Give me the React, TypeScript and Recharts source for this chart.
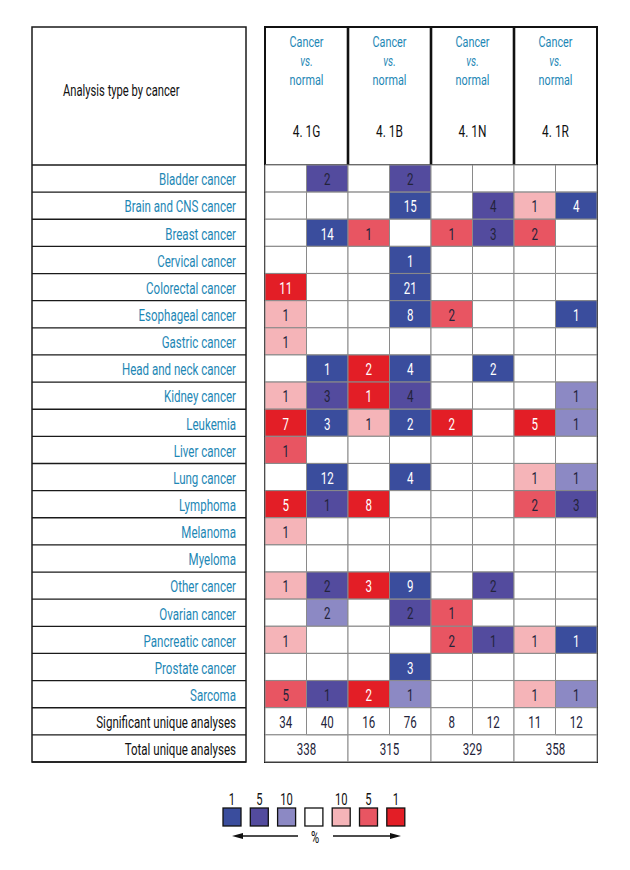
import React from 'react';
import { BarChart, Bar, XAxis, YAxis, Cell, LabelList } from 'recharts';

const cancers = [
  'Bladder cancer', 'Brain and CNS cancer', 'Breast cancer', 'Cervical cancer',
  'Colorectal cancer', 'Esophageal cancer', 'Gastric cancer', 'Head and neck cancer',
  'Kidney cancer', 'Leukemia', 'Liver cancer', 'Lung cancer', 'Lymphoma', 'Melanoma',
  'Myeloma', 'Other cancer', 'Ovarian cancer', 'Pancreatic cancer', 'Prostate cancer', 'Sarcoma',
];

const datasets = ['4. 1G', '4. 1B', '4. 1N', '4. 1R'];

// counts of significant analyses (0 = none) and their gene rank threshold (1, 5, 10 %)
const up1G = [0, 0, 0, 0, 11, 1, 1, 0, 1, 7, 1, 0, 5, 1, 0, 1, 0, 1, 0, 5];
const up1GRank = [0, 0, 0, 0, 1, 10, 10, 0, 10, 1, 5, 0, 1, 10, 0, 10, 0, 10, 0, 5];
const down1G = [2, 0, 14, 0, 0, 0, 0, 1, 3, 3, 0, 12, 1, 0, 0, 2, 2, 0, 0, 1];
const down1GRank = [5, 0, 1, 0, 0, 0, 0, 1, 5, 1, 0, 1, 5, 0, 0, 5, 10, 0, 0, 5];
const up1B = [0, 0, 1, 0, 0, 0, 0, 2, 1, 1, 0, 0, 8, 0, 0, 3, 0, 0, 0, 2];
const up1BRank = [0, 0, 5, 0, 0, 0, 0, 1, 1, 10, 0, 0, 1, 0, 0, 1, 0, 0, 0, 1];
const down1B = [2, 15, 0, 1, 21, 8, 0, 4, 4, 2, 0, 4, 0, 0, 0, 9, 2, 0, 3, 1];
const down1BRank = [5, 1, 0, 1, 1, 1, 0, 1, 5, 1, 0, 1, 0, 0, 0, 1, 5, 0, 1, 10];
const up1N = [0, 0, 1, 0, 0, 2, 0, 0, 0, 2, 0, 0, 0, 0, 0, 0, 1, 2, 0, 0];
const up1NRank = [0, 0, 5, 0, 0, 5, 0, 0, 0, 1, 0, 0, 0, 0, 0, 0, 5, 5, 0, 0];
const down1N = [0, 4, 3, 0, 0, 0, 0, 2, 0, 0, 0, 0, 0, 0, 0, 2, 0, 1, 0, 0];
const down1NRank = [0, 5, 5, 0, 0, 0, 0, 1, 0, 0, 0, 0, 0, 0, 0, 5, 0, 5, 0, 0];
const up1R = [0, 1, 2, 0, 0, 0, 0, 0, 0, 5, 0, 1, 2, 0, 0, 0, 0, 1, 0, 1];
const up1RRank = [0, 10, 5, 0, 0, 0, 0, 0, 0, 1, 0, 10, 5, 0, 0, 0, 0, 10, 0, 10];
const down1R = [0, 4, 0, 0, 0, 1, 0, 0, 1, 1, 0, 1, 3, 0, 0, 0, 0, 1, 0, 1];
const down1RRank = [0, 1, 0, 0, 0, 1, 0, 0, 10, 10, 0, 10, 5, 0, 0, 0, 0, 1, 0, 10];

const significant = [34, 40, 16, 76, 8, 12, 11, 12];
const totals = [338, 315, 329, 358];

const legendTicks = ['1', '5', '10', '', '10', '5', '1'];

const RED: Record<number, string> = { 1: '#e31e26', 5: '#e85562', 10: '#f5b4b8' };
const BLUE: Record<number, string> = { 1: '#3a4d9d', 5: '#534b9e', 10: '#8c89c4' };
const TEAL = '#1e87b5';
const FONT = "Roboto, 'Open Sans', sans-serif";
const SX = 0.7; // horizontal squeeze to mimic a condensed face

const columns = [
  { counts: up1G, ranks: up1GRank, pal: RED },
  { counts: down1G, ranks: down1GRank, pal: BLUE },
  { counts: up1B, ranks: up1BRank, pal: RED },
  { counts: down1B, ranks: down1BRank, pal: BLUE },
  { counts: up1N, ranks: up1NRank, pal: RED },
  { counts: down1N, ranks: down1NRank, pal: BLUE },
  { counts: up1R, ranks: up1RRank, pal: RED },
  { counts: down1R, ranks: down1RRank, pal: BLUE },
];

const rows: any[] = cancers.map((name, i) => {
  const r: any = { name };
  columns.forEach((c, j) => {
    const n = c.counts[i];
    const rank = c.ranks[i];
    r[`c${j}`] = 1;
    r[`t${j}`] = n ? String(n) : '';
    r[`f${j}`] = n ? c.pal[rank] : '#ffffff';
    r[`w${j}`] = n > 0 && rank === 1;
  });
  return r;
});

const sigRow: any = { name: 'Significant unique analyses', summary: true };
significant.forEach((v, j) => {
  sigRow[`c${j}`] = 1;
  sigRow[`t${j}`] = String(v);
  sigRow[`f${j}`] = '#ffffff';
  sigRow[`w${j}`] = false;
});
rows.push(sigRow);

const totRow: any = { name: 'Total unique analyses', summary: true };
for (let j = 0; j < 8; j++) {
  const even = j % 2 === 0;
  totRow[`c${j}`] = even ? 2 : 0;
  totRow[`t${j}`] = even ? String(totals[j / 2]) : '';
  totRow[`f${j}`] = '#ffffff';
  totRow[`w${j}`] = false;
}
rows.push(totRow);

// frame layout
const W = 630;
const H = 870;
const TOP = 27;
const HEAD = 165;
const BOTTOM = 762;
const LX0 = 32;
const LX1 = 246;
const RX0 = 265;
const RX1 = 597;
const colW = (RX1 - RX0) / 8;
const rowH = (BOTTOM - HEAD) / rows.length;

// condensed-looking text
const T = ({ x, y, size = 15, fill = '#111', anchor = 'middle', italic = false, children }: any) => (
  <text
    transform={`translate(${x},${y}) scale(${SX},1)`}
    textAnchor={anchor}
    dominantBaseline="central"
    fontFamily={FONT}
    fontSize={size}
    fontStyle={italic ? 'italic' : 'normal'}
    fill={fill}
  >
    {children}
  </text>
);

const makeLabel = (j: number) => (p: any) => {
  const { x, y, width, height, value, index } = p;
  if (!value || !width) return null;
  const row = rows[index] || {};
  return (
    <T x={x + width / 2} y={y + height / 2 + 1} size={16.5} fill={row[`w${j}`] ? '#ffffff' : '#23233a'}>
      {value}
    </T>
  );
};

const RowTick = (p: any) => {
  const row = rows.find((r) => r.name === p.payload.value);
  return (
    <T x={236} y={p.y + 1} size={16.5} anchor="end" fill={row && row.summary ? '#111' : TEAL}>
      {p.payload.value}
    </T>
  );
};

const Frame = () => {
  const lines = [];
  for (let k = 0; k <= rows.length; k++) {
    const y = HEAD + k * rowH;
    lines.push(<line key={`l${k}`} x1={LX0} x2={LX1} y1={y} y2={y} stroke="#1a1a1a" strokeWidth={1.3} />);
  }
  const legX = 223;
  const legStep = 27.3;
  const legY = 808;
  const legFills = [BLUE[1], BLUE[5], BLUE[10], '#ffffff', RED[10], RED[5], RED[1]];
  return (
    <g>
      {lines}
      <rect x={LX0} y={TOP} width={LX1 - LX0} height={BOTTOM - TOP} fill="none" stroke="#1a1a1a" strokeWidth={1.5} />
      <T x={63} y={90} size={16} anchor="start">Analysis type by cancer</T>
      {[20, 21].map((k) => (
        <line key={`s${k}`} x1={RX0} x2={RX1} y1={HEAD + k * rowH} y2={HEAD + k * rowH} stroke="#111" strokeWidth={1.5} />
      ))}
      <line x1={RX0} x2={RX1} y1={HEAD} y2={HEAD} stroke="#111" strokeWidth={1.6} />
      {[1, 2, 3].map((g) => (
        <line key={`g${g}`} x1={RX0 + g * 2 * colW} x2={RX0 + g * 2 * colW} y1={TOP} y2={BOTTOM} stroke="#111" strokeWidth={2.6} />
      ))}
      <rect x={RX0} y={TOP} width={RX1 - RX0} height={BOTTOM - TOP} fill="none" stroke="#111" strokeWidth={2} />
      {datasets.map((d, g) => {
        const cx = RX0 + (2 * g + 1) * colW;
        return (
          <g key={d}>
            <T x={cx} y={42} size={15.5} fill={TEAL}>Cancer</T>
            <T x={cx} y={61} size={14.5} italic fill={TEAL}>vs.</T>
            <T x={cx} y={79.5} size={15.5} fill={TEAL}>normal</T>
            <T x={cx} y={131} size={17}>{d}</T>
          </g>
        );
      })}
      {legFills.map((f, i) => (
        <g key={`lg${i}`}>
          <rect x={legX + i * legStep} y={legY} width={18} height={18} fill={f} stroke="#111" strokeWidth={1.3} />
          <T x={legX + i * legStep + 9} y={legY - 9} size={16}>{legendTicks[i]}</T>
        </g>
      ))}
      <line x1={240} x2={298} y1={legY + 28} y2={legY + 28} stroke="#111" strokeWidth={1.3} />
      <polygon points={`232,${legY + 28} 243,${legY + 25} 243,${legY + 31}`} fill="#111" />
      <line x1={333} x2={392} y1={legY + 28} y2={legY + 28} stroke="#111" strokeWidth={1.3} />
      <polygon points={`401,${legY + 28} 390,${legY + 25} 390,${legY + 31}`} fill="#111" />
      <T x={315} y={legY + 29} size={16}>%</T>
    </g>
  );
};

export default function App() {
  return (
    <div style={{ position: 'absolute', left: 0, top: 0, width: W, height: H, background: '#fff' }}>
      <BarChart
        width={W}
        height={H}
        data={rows}
        layout="vertical"
        barCategoryGap={0}
        margin={{ top: HEAD, right: W - RX1, bottom: H - BOTTOM, left: LX0 }}
      >
        <XAxis type="number" domain={[0, 8]} hide />
        <YAxis
          type="category"
          dataKey="name"
          width={RX0 - LX0}
          axisLine={false}
          tickLine={false}
          interval={0}
          tick={<RowTick />}
        />
        {columns.map((_, j) => (
          <Bar key={j} dataKey={`c${j}`} stackId="a" isAnimationActive={false} stroke="#8a8a8a" strokeWidth={1}>
            {rows.map((r, i) => (
              <Cell key={i} fill={r[`f${j}`]} />
            ))}
            <LabelList dataKey={`t${j}`} content={makeLabel(j)} />
          </Bar>
        ))}
        <Frame />
      </BarChart>
    </div>
  );
}
